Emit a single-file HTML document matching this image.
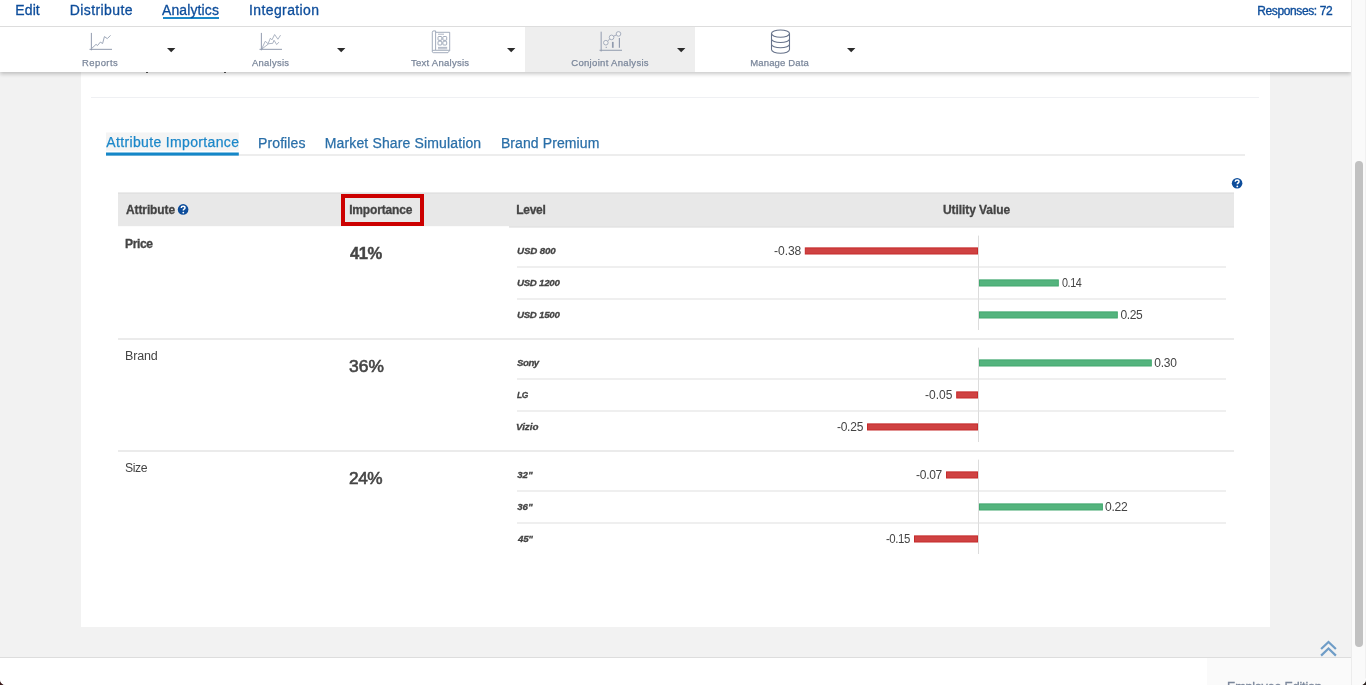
<!DOCTYPE html>
<html><head><meta charset="utf-8"><title>Conjoint Analysis</title>
<style>
html,body{margin:0;padding:0;}
body{width:1366px;height:685px;overflow:hidden;position:relative;background:#f2f2f2;font-family:"Liberation Sans", sans-serif;}
.abs,.t,.b,.ln{position:absolute;}
.t{white-space:nowrap;margin:0;padding:0;transform-origin:0 0;}
.b{height:7px;}
</style></head><body>
<!-- content card -->
<div class="abs" style="left:81px;top:0;width:1189px;height:627px;background:#fff"></div>
<div class="abs" style="left:91px;top:97px;width:1168px;height:1px;background:#eff0f3"></div>
<!-- hidden text descenders -->
<div class="abs" style="left:146px;top:72px;width:2px;height:1px;background:#555"></div>
<div class="abs" style="left:224px;top:72px;width:2px;height:1px;background:#555"></div>
<!-- tabs -->
<svg class="abs" style="left:0;top:0" width="1366" height="200" viewBox="0 0 1366 200">
<rect x="106" y="154.5" width="1139" height="1" fill="#dcdcdc"/>
<rect x="106" y="132.5" width="132.8" height="18.1" fill="#f4f4f4"/>
<rect x="106" y="152.5" width="132.8" height="3.1" fill="#1587c8"/>
</svg>
<!-- table header -->
<svg class="abs" style="left:0;top:0" width="1366" height="240" viewBox="0 0 1366 240">
<rect x="118" y="193" width="391" height="33.2" fill="#e8e8e8"/>
<rect x="509" y="193" width="725" height="34" fill="#e8e8e8"/>
<rect x="509" y="226.5" width="725" height="1.1" fill="#dedede"/>
<rect x="118" y="192.5" width="1116" height="1" fill="#d9d9d9"/>
</svg>
<div class="abs" style="left:341px;top:194px;width:83px;height:32px;border:4px solid #cc0000;box-sizing:border-box"></div>
<!-- help icons -->
<svg class="abs" style="left:0;top:0" width="1366" height="685" viewBox="0 0 1366 685">
<circle cx="183.1" cy="209.4" r="5.3" fill="#0d4d9b"/>
<circle cx="1237.1" cy="183.2" r="5.3" fill="#0d4d9b"/>
<path id="q" d="M-1.9 -1.4q0.1 -1.7 1.9 -1.7q1.9 0 1.9 1.5q0 0.9 -0.9 1.4q-0.8 0.5 -0.8 1.2" stroke="#fff" stroke-width="1.5" fill="none" transform="translate(183.1 209.4)"/>
<circle cx="183.3" cy="212.6" r="0.9" fill="#fff"/>
<path d="M-1.9 -1.4q0.1 -1.7 1.9 -1.7q1.9 0 1.9 1.5q0 0.9 -0.9 1.4q-0.8 0.5 -0.8 1.2" stroke="#fff" stroke-width="1.5" fill="none" transform="translate(1237.1 183.2)"/>
<circle cx="1237.3" cy="186.4" r="0.9" fill="#fff"/>
<!-- scroll to top chevrons -->
<path d="M1321.1 649L1328.5 641.9L1335.9 649M1321.1 655.6L1328.5 648.5L1335.9 655.6" stroke="#6f9dc7" stroke-width="2.2" fill="none"/>
</svg>

<svg class="abs" style="left:0;top:0" width="1366" height="685" viewBox="0 0 1366 685">
<rect x="805.3" y="247.9" width="172.2" height="6.1" fill="#cf4242" stroke="#c52b2b" stroke-width="1"/>
<rect x="979.5" y="279.9" width="78.8" height="6.1" fill="#54b47e" stroke="#42a86f" stroke-width="1"/>
<rect x="979.5" y="311.9" width="137.8" height="6.1" fill="#54b47e" stroke="#42a86f" stroke-width="1"/>
<rect x="979.5" y="359.9" width="171.8" height="6.1" fill="#54b47e" stroke="#42a86f" stroke-width="1"/>
<rect x="956.7" y="391.9" width="20.8" height="6.1" fill="#cf4242" stroke="#c52b2b" stroke-width="1"/>
<rect x="867.5" y="423.9" width="110.0" height="6.1" fill="#cf4242" stroke="#c52b2b" stroke-width="1"/>
<rect x="946.5" y="471.9" width="31.0" height="6.1" fill="#cf4242" stroke="#c52b2b" stroke-width="1"/>
<rect x="979.5" y="503.9" width="122.9" height="6.1" fill="#54b47e" stroke="#42a86f" stroke-width="1"/>
<rect x="914.5" y="535.9" width="63.0" height="6.1" fill="#cf4242" stroke="#c52b2b" stroke-width="1"/>
<rect x="978" y="235.6" width="1" height="94.4" fill="#dcdcdc"/>
<rect x="517" y="266.5" width="709" height="1" fill="#e0e0e0"/>
<rect x="517" y="298.5" width="709" height="1" fill="#e0e0e0"/>
<rect x="118" y="338.5" width="1116" height="1" fill="#d8d8d8"/>
<rect x="978" y="347.6" width="1" height="94.4" fill="#dcdcdc"/>
<rect x="517" y="378.5" width="709" height="1" fill="#e0e0e0"/>
<rect x="517" y="410.5" width="709" height="1" fill="#e0e0e0"/>
<rect x="118" y="450.5" width="1116" height="1" fill="#d8d8d8"/>
<rect x="978" y="459.6" width="1" height="94.4" fill="#dcdcdc"/>
<rect x="517" y="490.5" width="709" height="1" fill="#e0e0e0"/>
<rect x="517" y="522.5" width="709" height="1" fill="#e0e0e0"/>
</svg>
<!-- footer -->
<div class="abs" style="left:0;top:657px;width:1351px;height:28px;background:#fff;border-top:1px solid #ddd;box-sizing:border-box"></div>
<div class="abs" style="left:1207px;top:658px;width:144px;height:27px;background:#fafafa"></div>
<div class="abs" style="left:1227px;top:680px;width:96px;height:5px;overflow:hidden;will-change:transform"><div class="t" style="left:0;top:-1px;font-size:12.5px;line-height:16px;color:#7b879b;letter-spacing:-0.17px;-webkit-text-stroke:0.3px #7b879b">Employee Edition</div></div>
<!-- header -->
<div class="abs" style="left:0;top:0;width:1351px;height:72px;background:#fff;box-shadow:0 2px 4px rgba(0,0,0,0.22)"></div>
<div class="abs" style="left:0;top:26px;width:1351px;height:1px;background:#ddd"></div>
<div class="abs" style="left:525px;top:27px;width:170px;height:45px;background:#eee"></div>
<div class="abs" style="left:162.5px;top:17px;width:56.6px;height:2px;background:#1b87c9"></div>
<svg class="abs" style="left:0;top:0" width="1366" height="80" viewBox="0 0 1366 80">
<path d="M91.36 32.9V50.3M89.5 49.33H112" stroke="#919bae" stroke-width="1" fill="none"/>
<polyline points="91.76,48.43 96.06,44.35 97.49,45.57 100.35,42.10 102.60,43.53 104.43,36.58 107.29,38.63 110.56,35.36" stroke="#98a2b4" stroke-width="0.95" fill="none" stroke-linejoin="round"/>
<path d="M261.36 32.9V50.3M259.5 49.33H282" stroke="#919bae" stroke-width="1" fill="none"/>
<polyline points="261.56,49.25 265.24,41.28 268.10,43.73 270.35,38.22 271.98,39.85 274.64,34.54 277.90,39.24 280.56,35.15" stroke="#98a2b4" stroke-width="0.8" fill="none" stroke-linejoin="round"/>
<polyline points="261.56,49.25 268.71,43.73 272.80,43.32 274.02,40.26 276.68,44.55 278.93,42.10" stroke="#98a2b4" stroke-width="0.8" fill="none" stroke-linejoin="round"/>
<path d="M434 30.9h1.6v1.4H449.7v18.2l-1.8 2.2H433.6a1.3 1.3 0 0 1 -1.3 -1.3V32.3a1.5 1.5 0 0 1 1.7 -1.4z" stroke="#8b97ab" stroke-width="0.8" fill="none"/>
<path d="M435.6 32.3V50.3H449.7M432.4 51.2q0.3 -1 1.4 -0.9H435.6" stroke="#8b97ab" stroke-width="0.8" fill="none"/>
<rect x="438" y="36.5" width="3.8" height="3.8" rx="0.8" stroke="#8b97ab" stroke-width="0.8" fill="none"/>
<rect x="442.9" y="36.5" width="3.8" height="3.8" rx="0.8" stroke="#8b97ab" stroke-width="0.8" fill="none"/>
<rect x="438" y="41.2" width="3.8" height="3.8" rx="0.8" stroke="#8b97ab" stroke-width="0.8" fill="none"/>
<rect x="442.9" y="41.2" width="3.8" height="3.8" rx="0.8" stroke="#8b97ab" stroke-width="0.8" fill="none"/>
<path d="M438 34.2H444M438 47.4H447.2M438 48.8H447.2" stroke="#8b97ab" stroke-width="0.7" fill="none"/>
<path d="M601.15 31.7V51.5M599.5 50.27H622" stroke="#919bae" stroke-width="1" fill="none"/>
<path d="M607.7 40.9L609.8 39.1M613.5 36.3L616.3 34.9" stroke="#98a2b4" stroke-width="0.9" fill="none"/>
<circle cx="605.85" cy="42.7" r="2.3" stroke="#98a2b4" stroke-width="0.85" fill="#f4f4f4"/>
<circle cx="611.57" cy="37.4" r="2.3" stroke="#98a2b4" stroke-width="0.85" fill="#f4f4f4"/>
<circle cx="618.5" cy="33.9" r="2.3" stroke="#98a2b4" stroke-width="0.85" fill="#f4f4f4"/>
<path d="M612.8 41.9V47.8" stroke="#919bae" stroke-width="1.7" fill="none"/>
<path d="M619.4 38V47.8" stroke="#919bae" stroke-width="1.15" fill="none"/>
<rect x="605.7" y="46.8" width="1.1" height="1.1" fill="#919bae"/>
<ellipse cx="780.5" cy="33.6" rx="9" ry="3.6" stroke="#66728a" stroke-width="1.1" fill="none"/>
<path d="M771.5 33.6V49.6a9 3.6 0 0 0 18 0V33.6M771.5 38.9a9 3.6 0 0 0 18 0M771.5 44.2a9 3.6 0 0 0 18 0" stroke="#66728a" stroke-width="1.1" fill="none"/>
<path d="M167.0 48H175.39999999999998L171.2 52.3z" fill="#2b2b2b"/>
<path d="M337.0 48H345.4L341.2 52.3z" fill="#2b2b2b"/>
<path d="M507.0 48H515.4L511.2 52.3z" fill="#2b2b2b"/>
<path d="M677.0 48H685.4000000000001L681.2 52.3z" fill="#2b2b2b"/>
<path d="M847.0 48H855.4000000000001L851.2 52.3z" fill="#2b2b2b"/>
</svg>
<!-- scrollbar -->
<div class="abs" style="left:1351px;top:0;width:15px;height:685px;background:#fafafa;border-left:1px solid #ececec;border-right:1px solid #f1f1f1;box-sizing:border-box"></div>
<div class="abs" style="left:1355px;top:161px;width:8px;height:485.5px;background:#c1c1c1;border-radius:4px"></div>
<!-- window corners -->
<svg class="abs" style="left:0;top:0" width="1366" height="685" viewBox="0 0 1366 685">
<path d="M1366 679.5V685H1360.5A5.5 5.5 0 0 0 1366 679.5z" fill="#2b211e"/>
<path d="M1365.6 678.5A6 6 0 0 1 1359.5 684.8" stroke="#fff" stroke-width="1" fill="none" opacity="0.9"/>
<path d="M0 679.5V685H5.5A5.5 5.5 0 0 1 0 679.5z" fill="#3a1a1a"/>
<path d="M0.4 678.5A6 6 0 0 0 6.5 684.8" stroke="#fff" stroke-width="1" fill="none" opacity="0.9"/>
</svg>
<div class="abs" id="txt" style="left:0;top:0;width:1366px;height:685px;will-change:transform">
<div class="t" id="t0" style="left:15.35px;top:2.00px;font-size:14px;line-height:17px;color:#0d4d9b;letter-spacing:0.090px;-webkit-text-stroke:0.3px #0d4d9b;">Edit</div>
<div class="t" id="t1" style="left:69.85px;top:2.00px;font-size:14px;line-height:17px;color:#0d4d9b;letter-spacing:0.388px;-webkit-text-stroke:0.3px #0d4d9b;">Distribute</div>
<div class="t" id="t2" style="left:161.50px;top:2.00px;font-size:14px;line-height:17px;color:#0d4d9b;letter-spacing:0.131px;transform:scaleX(0.9969);-webkit-text-stroke:0.3px #0d4d9b;">Analytics</div>
<div class="t" id="t3" style="left:248.92px;top:2.00px;font-size:14px;line-height:17px;color:#0d4d9b;letter-spacing:0.405px;transform:scaleX(0.9977);-webkit-text-stroke:0.3px #0d4d9b;">Integration</div>
<div class="t" id="t4" style="left:1257.27px;top:4.00px;font-size:12px;line-height:14px;color:#0d4d9b;letter-spacing:-0.387px;-webkit-text-stroke:0.35px #0d4d9b;">Responses: 72</div>
<div class="t" id="t5" style="left:81.61px;top:57.00px;font-size:9.5px;line-height:11px;color:#7b879b;letter-spacing:0.448px;transform:scaleX(0.9942);-webkit-text-stroke:0.25px #7b879b;">Reports</div>
<div class="t" id="t6" style="left:251.75px;top:57.00px;font-size:9.5px;line-height:11px;color:#7b879b;letter-spacing:0.271px;transform:scaleX(0.9923);-webkit-text-stroke:0.25px #7b879b;">Analysis</div>
<div class="t" id="t7" style="left:410.77px;top:57.00px;font-size:9.5px;line-height:11px;color:#7b879b;letter-spacing:0.233px;transform:scaleX(1.0058);-webkit-text-stroke:0.25px #7b879b;">Text Analysis</div>
<div class="t" id="t8" style="left:571.25px;top:57.00px;font-size:9.5px;line-height:11px;color:#7b879b;letter-spacing:0.314px;-webkit-text-stroke:0.25px #7b879b;">Conjoint Analysis</div>
<div class="t" id="t9" style="left:750.21px;top:57.00px;font-size:9.5px;line-height:11px;color:#7b879b;letter-spacing:0.153px;-webkit-text-stroke:0.25px #7b879b;">Manage Data</div>
<div class="t" id="t10" style="left:106.31px;top:134.00px;font-size:14px;line-height:17px;color:#1b87c9;letter-spacing:0.346px;-webkit-text-stroke:0.25px #1b87c9;">Attribute Importance</div>
<div class="t" id="t11" style="left:257.91px;top:135.00px;font-size:14px;line-height:17px;color:#2a6fa8;letter-spacing:0.089px;transform:scaleX(1.0034);-webkit-text-stroke:0.25px #2a6fa8;">Profiles</div>
<div class="t" id="t12" style="left:324.79px;top:135.00px;font-size:14px;line-height:17px;color:#2a6fa8;letter-spacing:0.139px;-webkit-text-stroke:0.25px #2a6fa8;">Market Share Simulation</div>
<div class="t" id="t13" style="left:500.91px;top:135.00px;font-size:14px;line-height:17px;color:#2a6fa8;letter-spacing:0.098px;-webkit-text-stroke:0.25px #2a6fa8;">Brand Premium</div>
<div class="t" id="t14" style="left:125.92px;top:203.00px;font-size:12px;line-height:14px;color:#444;font-weight:700;letter-spacing:-0.093px;transform:scaleX(0.9962);-webkit-text-stroke:0.3px #444;">Attribute</div>
<div class="t" id="t15" style="left:349.15px;top:203.00px;font-size:12px;line-height:14px;color:#444;font-weight:700;letter-spacing:-0.167px;-webkit-text-stroke:0.3px #444;">Importance</div>
<div class="t" id="t16" style="left:516.19px;top:203.00px;font-size:12px;line-height:14px;color:#444;font-weight:700;letter-spacing:-0.274px;-webkit-text-stroke:0.3px #444;">Level</div>
<div class="t" id="t17" style="left:942.76px;top:203.00px;font-size:12px;line-height:14px;color:#444;font-weight:700;letter-spacing:-0.060px;transform:scaleX(0.9976);-webkit-text-stroke:0.3px #444;">Utility Value</div>
<div class="t" id="t18" style="left:124.72px;top:237.00px;font-size:12px;line-height:14px;color:#444;font-weight:700;letter-spacing:-0.394px;transform:scaleX(1.0088);-webkit-text-stroke:0.3px #444;">Price</div>
<div class="t" id="t19" style="left:125.00px;top:349.00px;font-size:12.5px;line-height:15px;color:#444;letter-spacing:-0.141px;">Brand</div>
<div class="t" id="t20" style="left:124.50px;top:461.00px;font-size:12.5px;line-height:15px;color:#444;letter-spacing:-0.450px;transform:scaleX(0.9809);">Size</div>
<div class="t" id="t21" style="left:349.50px;top:244.00px;font-size:17px;line-height:20px;color:#444;font-weight:700;letter-spacing:-0.450px;transform:scaleX(0.9764);-webkit-text-stroke:0.4px #444;">41%</div>
<div class="t" id="t22" style="left:348.63px;top:356.00px;font-size:17.3px;line-height:21px;color:#444;letter-spacing:0.062px;transform:scaleX(1.0035);-webkit-text-stroke:0.6px #444;">36%</div>
<div class="t" id="t23" style="left:348.93px;top:468.00px;font-size:17.3px;line-height:21px;color:#444;letter-spacing:-0.450px;transform:scaleX(0.9966);-webkit-text-stroke:0.6px #444;">24%</div>
<div class="t" id="t24" style="left:516.99px;top:245.00px;font-size:9.7px;line-height:12px;color:#444;font-weight:700;font-style:italic;letter-spacing:-0.128px;transform:scaleX(1.0054);-webkit-text-stroke:0.3px #444;">USD 800</div>
<div class="t" id="t25" style="left:516.91px;top:277.00px;font-size:9.7px;line-height:12px;color:#444;font-weight:700;font-style:italic;letter-spacing:-0.254px;-webkit-text-stroke:0.3px #444;">USD 1200</div>
<div class="t" id="t26" style="left:516.91px;top:309.00px;font-size:9.7px;line-height:12px;color:#444;font-weight:700;font-style:italic;letter-spacing:-0.254px;-webkit-text-stroke:0.3px #444;">USD 1500</div>
<div class="t" id="t27" style="left:516.64px;top:357.00px;font-size:9.7px;line-height:12px;color:#444;font-weight:700;font-style:italic;letter-spacing:-0.450px;transform:scaleX(0.9920);-webkit-text-stroke:0.3px #444;">Sony</div>
<div class="t" id="t28" style="left:516.78px;top:389.00px;font-size:9.7px;line-height:12px;color:#444;font-weight:700;font-style:italic;letter-spacing:-0.450px;transform:scaleX(0.8712);-webkit-text-stroke:0.3px #444;">LG</div>
<div class="t" id="t29" style="left:515.78px;top:421.00px;font-size:9.7px;line-height:12px;color:#444;font-weight:700;font-style:italic;letter-spacing:-0.034px;transform:scaleX(1.0116);-webkit-text-stroke:0.3px #444;">Vizio</div>
<div class="t" id="t30" style="left:517.24px;top:469.00px;font-size:9.7px;line-height:12px;color:#444;font-weight:700;font-style:italic;letter-spacing:-0.045px;-webkit-text-stroke:0.3px #444;">32&quot;</div>
<div class="t" id="t31" style="left:517.24px;top:501.00px;font-size:9.7px;line-height:12px;color:#444;font-weight:700;font-style:italic;letter-spacing:-0.045px;-webkit-text-stroke:0.3px #444;">36&quot;</div>
<div class="t" id="t32" style="left:517.92px;top:533.00px;font-size:9.7px;line-height:12px;color:#444;font-weight:700;font-style:italic;letter-spacing:-0.185px;transform:scaleX(0.9962);-webkit-text-stroke:0.3px #444;">45&quot;</div>
<div class="t" id="t33" style="left:773.82px;top:244.00px;font-size:12px;line-height:14px;color:#444;letter-spacing:-0.065px;transform:scaleX(1.0081);">-0.38</div>
<div class="t" id="t34" style="left:1061.59px;top:276.00px;font-size:12px;line-height:14px;color:#444;letter-spacing:-0.450px;transform:scaleX(0.8993);">0.14</div>
<div class="t" id="t35" style="left:1120.57px;top:308.00px;font-size:12px;line-height:14px;color:#444;letter-spacing:-0.450px;">0.25</div>
<div class="t" id="t36" style="left:1154.13px;top:356.00px;font-size:12px;line-height:14px;color:#444;letter-spacing:-0.145px;">0.30</div>
<div class="t" id="t37" style="left:924.90px;top:388.00px;font-size:12px;line-height:14px;color:#444;letter-spacing:0.066px;">-0.05</div>
<div class="t" id="t38" style="left:836.91px;top:420.00px;font-size:12px;line-height:14px;color:#444;letter-spacing:-0.234px;">-0.25</div>
<div class="t" id="t39" style="left:916.05px;top:468.00px;font-size:12px;line-height:14px;color:#444;letter-spacing:-0.279px;">-0.07</div>
<div class="t" id="t40" style="left:1104.86px;top:500.00px;font-size:12px;line-height:14px;color:#444;letter-spacing:-0.305px;transform:scaleX(1.0082);">0.22</div>
<div class="t" id="t41" style="left:885.83px;top:532.00px;font-size:12px;line-height:14px;color:#444;letter-spacing:-0.450px;transform:scaleX(0.9510);">-0.15</div>
</div>
</body></html>
